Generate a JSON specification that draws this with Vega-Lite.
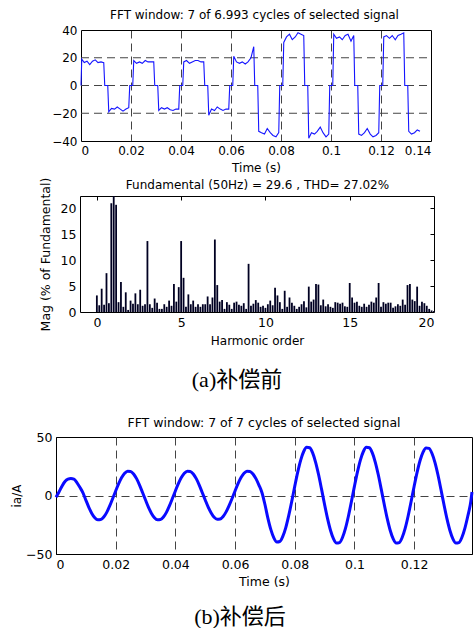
{
"$schema": "https://vega.github.io/schema/vega-lite/v6.json",
"padding": {"left": 10, "top": 9, "right": 0, "bottom": 0},
"background": "white",
"config": {
  "font": "DejaVu Sans",
  "view": {"stroke": "black", "strokeWidth": 1},
  "axis": {"labelFont": "DejaVu Sans", "labelFontSize": 12, "labelColor": "black", "titleFont": "DejaVu Sans", "titleFontSize": 12, "titleFontWeight": "normal", "titleColor": "black", "domainColor": "black", "tickColor": "black", "ticks": false, "labelPadding": 4, "gridColor": "#444444", "gridDash": [8, 5], "gridWidth": 1},
  "title": {"font": "DejaVu Sans", "fontSize": 12, "fontWeight": "normal", "color": "black"}
},
"datasets": {
  "wave1": [
    {"t":0,"v":0},{"t":0.0003,"v":19},{"t":0.0013,"v":16.5},{"t":0.0024,"v":17.5},{"t":0.0035,"v":15},{"t":0.0046,"v":17.5},{"t":0.0057,"v":18.5},{"t":0.0068,"v":16.5},{"t":0.008,"v":17},{"t":0.0091,"v":16.5},
    {"t":0.0095,"v":0},{"t":0.0107,"v":0},{"t":0.0111,"v":-19},{"t":0.0122,"v":-16.5},{"t":0.0134,"v":-17},{"t":0.0145,"v":-15.5},{"t":0.0157,"v":-17},{"t":0.0168,"v":-18.5},{"t":0.018,"v":-17},{"t":0.0191,"v":-16},
    {"t":0.0195,"v":0},{"t":0.0207,"v":0},{"t":0.0211,"v":18},{"t":0.0222,"v":16},{"t":0.0234,"v":17},{"t":0.0245,"v":16},{"t":0.0257,"v":18},{"t":0.0268,"v":17},{"t":0.028,"v":17},{"t":0.0291,"v":17},
    {"t":0.0295,"v":0},{"t":0.0307,"v":0},{"t":0.0311,"v":-18},{"t":0.0322,"v":-16},{"t":0.0334,"v":-17},{"t":0.0345,"v":-16},{"t":0.0357,"v":-17.5},{"t":0.0368,"v":-18},{"t":0.038,"v":-17},{"t":0.0391,"v":-17},
    {"t":0.0395,"v":0},{"t":0.0407,"v":0},{"t":0.0411,"v":17},{"t":0.0422,"v":18},{"t":0.0434,"v":16},{"t":0.0445,"v":17},{"t":0.0457,"v":18},{"t":0.0468,"v":18},{"t":0.048,"v":17},{"t":0.0491,"v":17},
    {"t":0.0495,"v":0},{"t":0.0507,"v":0},{"t":0.0511,"v":-21.5},{"t":0.0522,"v":-17},{"t":0.0534,"v":-18},{"t":0.0545,"v":-15.5},{"t":0.0557,"v":-17},{"t":0.0568,"v":-18},{"t":0.058,"v":-17},{"t":0.0591,"v":-17},
    {"t":0.0595,"v":0},{"t":0.0607,"v":0},{"t":0.0611,"v":21},{"t":0.0622,"v":17},{"t":0.0634,"v":16},{"t":0.0645,"v":17},{"t":0.0657,"v":15.5},{"t":0.0668,"v":17},{"t":0.068,"v":20},{"t":0.0691,"v":28},
    {"t":0.0695,"v":0},{"t":0.0707,"v":0},{"t":0.0711,"v":-33},{"t":0.0722,"v":-34},{"t":0.0734,"v":-35},{"t":0.0745,"v":-31},{"t":0.0757,"v":-34},{"t":0.0768,"v":-36},{"t":0.078,"v":-37},{"t":0.0791,"v":-34},
    {"t":0.0795,"v":0},{"t":0.0807,"v":0},{"t":0.0811,"v":31},{"t":0.0822,"v":35},{"t":0.0834,"v":37},{"t":0.0845,"v":33},{"t":0.0857,"v":35},{"t":0.0868,"v":38},{"t":0.088,"v":37},{"t":0.0891,"v":36},
    {"t":0.0895,"v":0},{"t":0.0907,"v":0},{"t":0.0911,"v":-38},{"t":0.0922,"v":-34},{"t":0.0934,"v":-35},{"t":0.0945,"v":-33},{"t":0.0957,"v":-30},{"t":0.0968,"v":-34},{"t":0.098,"v":-37},{"t":0.0991,"v":-35},
    {"t":0.0995,"v":0},{"t":0.1007,"v":0},{"t":0.1011,"v":37},{"t":0.1022,"v":34},{"t":0.1034,"v":35},{"t":0.1045,"v":33},{"t":0.1057,"v":36},{"t":0.1068,"v":37},{"t":0.108,"v":32},{"t":0.1091,"v":36},
    {"t":0.1095,"v":0},{"t":0.1107,"v":0},{"t":0.1111,"v":-35},{"t":0.1122,"v":-36},{"t":0.1134,"v":-34},{"t":0.1145,"v":-31},{"t":0.1157,"v":-35},{"t":0.1168,"v":-37},{"t":0.118,"v":-36},{"t":0.1191,"v":-34},
    {"t":0.1195,"v":0},{"t":0.1207,"v":0},{"t":0.1211,"v":35},{"t":0.1222,"v":36},{"t":0.1234,"v":34},{"t":0.1245,"v":36},{"t":0.1257,"v":33},{"t":0.1268,"v":36},{"t":0.128,"v":37},{"t":0.1291,"v":38},
    {"t":0.1295,"v":0},{"t":0.1307,"v":0},{"t":0.1311,"v":-33},{"t":0.1322,"v":-35},{"t":0.1334,"v":-34},{"t":0.1345,"v":-32},{"t":0.1356,"v":-33}
  ],
  "fft": [
    {"k":0,"m":3.2},{"k":1,"m":1.3},{"k":2,"m":4.5},{"k":3,"m":1.4},{"k":4,"m":7.5},{"k":5,"m":1.7},{"k":6,"m":21.0},{"k":7,"m":100},{"k":8,"m":20.7},{"k":9,"m":1.9},
    {"k":10,"m":5.8},{"k":11,"m":1.0},{"k":12,"m":3.8},{"k":13,"m":0.4},{"k":14,"m":2.2},{"k":15,"m":1.6},{"k":16,"m":3.6},{"k":17,"m":1.5},{"k":18,"m":4.3},{"k":19,"m":1.2},
    {"k":20,"m":1.5},{"k":21,"m":13.7},{"k":22,"m":1.5},{"k":23,"m":0.8},{"k":24,"m":2.6},{"k":25,"m":1.8},{"k":26,"m":0.6},{"k":27,"m":0.6},{"k":28,"m":1.5},{"k":29,"m":1.0},
    {"k":30,"m":2.2},{"k":31,"m":1.2},{"k":32,"m":5.4},{"k":33,"m":2.0},{"k":34,"m":4.8},{"k":35,"m":13.7},{"k":36,"m":6.6},{"k":37,"m":1.0},{"k":38,"m":3.4},{"k":39,"m":1.5},
    {"k":40,"m":2.2},{"k":41,"m":1.0},{"k":42,"m":1.5},{"k":43,"m":1.0},{"k":44,"m":1.5},{"k":45,"m":1.5},{"k":46,"m":3.0},{"k":47,"m":1.5},{"k":48,"m":2.8},{"k":49,"m":14.0},
    {"k":50,"m":5.2},{"k":51,"m":2.0},{"k":52,"m":2.3},{"k":53,"m":0.6},{"k":54,"m":1.9},{"k":55,"m":1.4},{"k":56,"m":0.6},{"k":57,"m":1.8},{"k":58,"m":2.0},{"k":59,"m":1.4},
    {"k":60,"m":1.2},{"k":61,"m":1.7},{"k":62,"m":0.6},{"k":63,"m":9.3},{"k":64,"m":1.2},{"k":65,"m":1.6},{"k":66,"m":2.3},{"k":67,"m":1.8},{"k":68,"m":1.0},{"k":69,"m":1.2},
    {"k":70,"m":0.8},{"k":71,"m":1.5},{"k":72,"m":2.2},{"k":73,"m":1.3},{"k":74,"m":4.7},{"k":75,"m":3.2},{"k":76,"m":1.9},{"k":77,"m":0.6},{"k":78,"m":4.1},{"k":79,"m":1.0},
    {"k":80,"m":2.8},{"k":81,"m":1.8},{"k":82,"m":1.2},{"k":83,"m":0.6},{"k":84,"m":1.0},{"k":85,"m":1.5},{"k":86,"m":2.1},{"k":87,"m":0.9},{"k":88,"m":4.9},{"k":89,"m":2.0},
    {"k":90,"m":2.4},{"k":91,"m":5.4},{"k":92,"m":5.3},{"k":93,"m":1.3},{"k":94,"m":2.4},{"k":95,"m":1.1},{"k":96,"m":1.5},{"k":97,"m":1.0},{"k":98,"m":0.8},{"k":99,"m":1.9},
    {"k":100,"m":1.8},{"k":101,"m":1.6},{"k":102,"m":1.8},{"k":103,"m":1.1},{"k":104,"m":1.0},{"k":105,"m":5.6},{"k":106,"m":2.8},{"k":107,"m":1.8},{"k":108,"m":2.0},{"k":109,"m":1.2},
    {"k":110,"m":1.0},{"k":111,"m":1.6},{"k":112,"m":1.0},{"k":113,"m":1.4},{"k":114,"m":2.0},{"k":115,"m":1.8},{"k":116,"m":2.8},{"k":117,"m":5.6},{"k":118,"m":1.0},{"k":119,"m":1.9},
    {"k":120,"m":1.6},{"k":121,"m":1.8},{"k":122,"m":1.8},{"k":123,"m":0.8},{"k":124,"m":1.1},{"k":125,"m":1.5},{"k":126,"m":1.2},{"k":127,"m":2.4},{"k":128,"m":1.4},{"k":129,"m":5.2},
    {"k":130,"m":5.4},{"k":131,"m":2.4},{"k":132,"m":2.1},{"k":133,"m":4.9},{"k":134,"m":1.2},{"k":135,"m":2.0},{"k":136,"m":1.7},{"k":137,"m":1.2},{"k":138,"m":0.6},{"k":139,"m":0.3},
    {"k":140,"m":0.2}
  ],
  "wave2": [
    {"t":0,"v":-1.5},{"t":0.001,"v":3},{"t":0.002,"v":8},{"t":0.003,"v":12},{"t":0.004,"v":14},{"t":0.005,"v":14.5},{"t":0.006,"v":14},{"t":0.007,"v":11},{"t":0.008,"v":7},{"t":0.009,"v":2.5},
    {"t":0.01,"v":-3.9},{"t":0.011,"v":-10.1},{"t":0.012,"v":-15.3},{"t":0.013,"v":-19},{"t":0.014,"v":-20.8},{"t":0.015,"v":-20.6},{"t":0.016,"v":-18.4},{"t":0.017,"v":-14.4},{"t":0.018,"v":-8.9},{"t":0.019,"v":-2.6},
    {"t":0.02,"v":3.9},{"t":0.021,"v":10.1},{"t":0.022,"v":15.3},{"t":0.023,"v":19},{"t":0.024,"v":20.8},{"t":0.025,"v":20.6},{"t":0.026,"v":18.4},{"t":0.027,"v":14.4},{"t":0.028,"v":8.9},{"t":0.029,"v":2.6},
    {"t":0.03,"v":-3.9},{"t":0.031,"v":-10.1},{"t":0.032,"v":-15.3},{"t":0.033,"v":-19},{"t":0.034,"v":-20.8},{"t":0.035,"v":-20.6},{"t":0.036,"v":-18.4},{"t":0.037,"v":-14.4},{"t":0.038,"v":-8.9},{"t":0.039,"v":-2.6},
    {"t":0.04,"v":3.9},{"t":0.041,"v":10.1},{"t":0.042,"v":15.3},{"t":0.043,"v":19},{"t":0.044,"v":20.8},{"t":0.045,"v":20.6},{"t":0.046,"v":18.4},{"t":0.047,"v":14.4},{"t":0.048,"v":8.9},{"t":0.049,"v":2.6},
    {"t":0.05,"v":-3.8},{"t":0.051,"v":-9.9},{"t":0.052,"v":-14.9},{"t":0.053,"v":-18.6},{"t":0.054,"v":-20.3},{"t":0.055,"v":-20.1},{"t":0.056,"v":-18},{"t":0.057,"v":-14},{"t":0.058,"v":-8.7},{"t":0.059,"v":-2.6},
    {"t":0.06,"v":3.9},{"t":0.061,"v":10.1},{"t":0.062,"v":15.3},{"t":0.063,"v":19},{"t":0.064,"v":20.8},{"t":0.065,"v":20.6},{"t":0.066,"v":18.4},{"t":0.067,"v":14.4},{"t":0.068,"v":8.9},{"t":0.069,"v":2.6},
    {"t":0.07,"v":-7.5},{"t":0.071,"v":-19.3},{"t":0.072,"v":-29.2},{"t":0.073,"v":-36.2},{"t":0.074,"v":-39.7},{"t":0.075,"v":-39.3},{"t":0.076,"v":-35},{"t":0.077,"v":-27.4},{"t":0.078,"v":-17},{"t":0.079,"v":-5},
    {"t":0.08,"v":7.8},{"t":0.081,"v":20},{"t":0.082,"v":30.3},{"t":0.083,"v":37.6},{"t":0.084,"v":41.2},{"t":0.085,"v":40.8},{"t":0.086,"v":36.4},{"t":0.087,"v":28.4},{"t":0.088,"v":17.7},{"t":0.089,"v":5.2},
    {"t":0.09,"v":-7.7},{"t":0.091,"v":-19.8},{"t":0.092,"v":-29.9},{"t":0.093,"v":-37.1},{"t":0.094,"v":-40.7},{"t":0.095,"v":-40.3},{"t":0.096,"v":-35.9},{"t":0.097,"v":-28.1},{"t":0.098,"v":-17.5},{"t":0.099,"v":-5.1},
    {"t":0.1,"v":7.8},{"t":0.101,"v":20},{"t":0.102,"v":30.3},{"t":0.103,"v":37.6},{"t":0.104,"v":41.2},{"t":0.105,"v":40.8},{"t":0.106,"v":36.4},{"t":0.107,"v":28.4},{"t":0.108,"v":17.7},{"t":0.109,"v":5.2},
    {"t":0.11,"v":-7.7},{"t":0.111,"v":-19.8},{"t":0.112,"v":-29.9},{"t":0.113,"v":-37.1},{"t":0.114,"v":-40.7},{"t":0.115,"v":-40.3},{"t":0.116,"v":-35.9},{"t":0.117,"v":-28.1},{"t":0.118,"v":-17.5},{"t":0.119,"v":-5.1},
    {"t":0.12,"v":7.7},{"t":0.121,"v":19.8},{"t":0.122,"v":29.9},{"t":0.123,"v":37.1},{"t":0.124,"v":40.7},{"t":0.125,"v":40.3},{"t":0.126,"v":35.9},{"t":0.127,"v":28.1},{"t":0.128,"v":17.5},{"t":0.129,"v":5.1},
    {"t":0.13,"v":-7.7},{"t":0.131,"v":-19.8},{"t":0.132,"v":-29.9},{"t":0.133,"v":-37.1},{"t":0.134,"v":-40.7},{"t":0.135,"v":-40.3},{"t":0.136,"v":-35.9},{"t":0.137,"v":-28.1},{"t":0.138,"v":-17.5},{"t":0.139,"v":-5.1},
    {"t":0.1394,"v":3}
  ]
},
"spacing": 4,
"vconcat": [
  {
    "width": 375, "height": 111,
    "view": {"stroke": null},
    "title": {"text": "FFT window: 7 of 6.993 cycles of selected signal", "fontSize": 12, "offset": 2, "dx": 11},
    "layer": [
      {
        "data": {"values": [{"g": -20}, {"g": 0}, {"g": 20}]},
        "mark": {"type": "rule", "color": "#444444", "strokeDash": [8, 5], "strokeWidth": 1},
        "encoding": {
          "y": {"field": "g", "type": "quantitative", "axis": {"orient": "right", "labels": false, "ticks": false, "title": null, "grid": false, "values": [0]}},
          "x": {"datum": 0, "type": "quantitative", "axis": {"orient": "top", "labels": false, "ticks": false, "title": null, "grid": false, "values": [0]}},
          "x2": {"datum": 0.14}
        }
      },
      {
        "data": {"name": "wave1"},
        "mark": {"type": "line", "color": "#1515ff", "strokeWidth": 1.1},
        "encoding": {
          "x": {"field": "t", "type": "quantitative", "scale": {"domain": [0, 0.14], "range": [25, 375], "nice": false, "zero": false},
                "axis": {"orient": "bottom", "values": [0, 0.02, 0.04, 0.06, 0.08, 0.1, 0.12, 0.14], "format": "~g", "title": "Time (s)", "titlePadding": 6, "grid": true,
                         "gridOpacity": {"condition": {"test": "datum.value == 0 || datum.value > 0.13", "value": 0}, "value": 1}}},
          "y": {"field": "v", "type": "quantitative", "scale": {"domain": [-40, 40], "nice": false},
                "axis": {"orient": "left", "offset": -25, "values": [-40, -20, 0, 20, 40], "title": null, "grid": false}}
        }
      }
    ],
    "resolve": {"axis": {"x": "independent", "y": "independent"}}
  },
  {
    "width": 378, "height": 116,
    "view": {"stroke": null},
    "data": {"name": "fft"},
    "layer": [
      {
        "mark": {"type": "rule", "color": "#000022", "strokeWidth": 1.8},
        "encoding": {
          "x": {"field": "k", "type": "quantitative", "scale": {"domain": [-7, 140], "range": [24, 378], "nice": false, "zero": false},
                "axis": {"orient": "bottom", "values": [0, 35, 70, 105, 140], "labelExpr": "datum.value / 7", "title": "Harmonic order", "titlePadding": 7, "grid": false, "labelFontSize": 12.5}},
          "y": {"field": "m", "type": "quantitative", "scale": {"domain": [0, 22.4], "nice": false, "clamp": true},
                "axis": {"orient": "left", "offset": -24, "values": [0, 5, 10, 15, 20], "title": "Mag (% of Fundamental)", "titleFontSize": 12.5, "titlePadding": 8, "grid": false, "labelFontSize": 12.5}},
          "y2": {"datum": 0}
        }
      },
      {
        "mark": {"type": "rule", "strokeOpacity": 0},
        "encoding": {
          "x": {"field": "k", "type": "quantitative", "axis": {"orient": "top", "labels": false, "ticks": true, "tickSize": -4, "title": "Fundamental (50Hz) = 29.6 , THD= 27.02%", "titleFontSize": 12, "titlePadding": 4, "grid": false, "values": [0, 35, 70, 105]}},
          "y": {"field": "m", "type": "quantitative", "axis": {"orient": "right", "labels": false, "ticks": true, "tickSize": -4, "title": null, "grid": false, "values": [5, 10, 15, 20]}}
        }
      }
    ],
    "resolve": {"axis": {"x": "independent", "y": "independent"}}
  },
  {
    "width": 362, "height": 61,
    "view": {"stroke": null},
    "data": {"values": [{"c": "(a)补偿前"}]},
    "mark": {"type": "text", "font": "Liberation Serif, Noto Sans CJK SC", "fontSize": 22, "baseline": "middle", "color": "black", "dy": -2},
    "encoding": {"text": {"field": "c", "type": "nominal"}}
  },
  {
    "width": 416, "height": 117,
    "data": {"name": "wave2"},
    "title": {"text": "FFT window: 7 of 7 cycles of selected signal", "fontSize": 12.5, "offset": 2},
    "mark": {"type": "line", "color": "#0a0aff", "strokeWidth": 3, "interpolate": "monotone"},
    "encoding": {
      "x": {"field": "t", "type": "quantitative", "scale": {"domain": [0, 0.1394], "nice": false, "zero": false},
            "axis": {"values": [0, 0.02, 0.04, 0.06, 0.08, 0.1, 0.12], "format": "~g", "title": "Time (s)", "titlePadding": 5, "grid": true, "labelFontSize": 12.5, "titleFontSize": 12.5,
                     "gridOpacity": {"condition": {"test": "datum.value == 0", "value": 0}, "value": 1}}},
      "y": {"field": "v", "type": "quantitative", "scale": {"domain": [-50, 50], "nice": false},
            "axis": {"values": [-50, 0, 50], "title": "ia/A", "titlePadding": 2, "grid": true, "labelFontSize": 12.5,
                     "gridOpacity": {"condition": {"test": "abs(datum.value) == 50", "value": 0}, "value": 1}}}
    }
  },
  {
    "width": 368, "height": 48,
    "view": {"stroke": null},
    "data": {"values": [{"c": "(b)补偿后"}]},
    "mark": {"type": "text", "font": "Liberation Serif, Noto Sans CJK SC", "fontSize": 22, "baseline": "middle", "color": "black"},
    "encoding": {"text": {"field": "c", "type": "nominal"}}
  }
]
}
